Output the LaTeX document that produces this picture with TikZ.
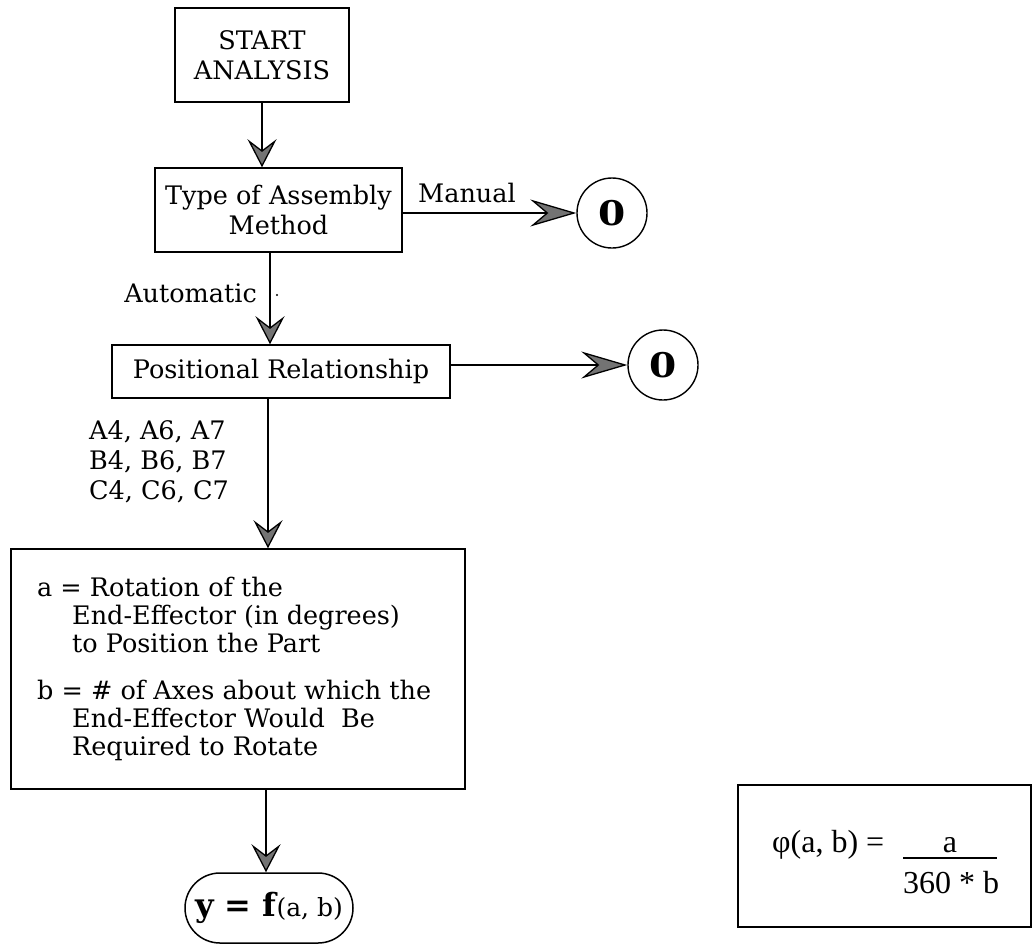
\documentclass[tikz,border=0pt]{standalone}
\usepackage{fontspec}
\setmainfont{DejaVu Serif}
\newfontfamily\tms{Liberation Serif}
\usetikzlibrary{arrows.meta}
\begin{document}
\begin{tikzpicture}[x=1pt,y=-1pt,
  box/.style={draw, line width=1.5pt, inner sep=0pt, align=center, font=\fontsize{25.5}{29.5}\selectfont},
  txt/.style={inner sep=0pt, font=\fontsize{25.5}{29.5}\selectfont},
  zero/.style={draw, circle, line width=1.4pt, minimum size=70pt, inner sep=0pt, font=\fontsize{34}{34}\selectfont\bfseries},
  vflow/.style={line width=1.3pt, -{Stealth[length=28pt,width=29pt,inset=11pt,fill=black!55]}},
  hflow/.style={line width=1.3pt, -{Stealth[length=46pt,width=27pt,inset=16pt,fill=black!55]}},
]
\useasboundingbox (0,0) rectangle (1033,945);
% nodes
\node[box, minimum width=174pt, minimum height=94pt] (start) at (262,55) {START\\ANALYSIS};
\node[box, minimum width=247pt, minimum height=84pt] (type) at (278.5,210) {Type of Assembly\\Method};
\node[zero] (c1) at (612,213) {\scalebox{1.15}[1]{0}};
\node[txt] (manual) at (467,193) {Manual};
\node[txt, anchor=east] (auto) at (257,293) {Automatic};
\node[box, minimum width=338pt, minimum height=53pt] (pos) at (281,371.5) {Positional Relationship};
\node[zero] (c2) at (663,365) {\scalebox{1.15}[1]{0}};
\node[txt, anchor=north west, align=left, font=\fontsize{25.5}{30}\selectfont] (codes) at (89,420) {A4, A6, A7\\B4, B6, B7\\C4, C6, C7};
\node[box, minimum width=454pt, minimum height=240pt] (big) at (238,669) {};
\node[txt, anchor=north west, align=left, font=\fontsize{25.5}{28}\selectfont] (bigtext) at (37,577)
  {a = Rotation of the\\\hspace*{35pt}End-Effector (in degrees)\\\hspace*{35pt}to Position the Part\\[19pt]
   b = \# of Axes about which the\\\hspace*{35pt}End-Effector Would\ \ Be\\\hspace*{35pt}Required to Rotate};
\node[draw, line width=1.5pt, rounded corners=35pt, minimum width=168pt, minimum height=70pt, inner sep=0pt] (yell) at (269,908)
  {{\fontsize{32}{32}\selectfont\bfseries y = f}{\fontsize{25}{25}\selectfont(a, b)}};
\node[draw, line width=1.5pt, minimum width=293pt, minimum height=142pt] (phibox) at (884.5,856) {};
\node[anchor=base west, inner sep=0pt, font=\tms\fontsize{32}{32}\selectfont] (phil) at (772,852) {φ(a, b) =};
\node[anchor=base, inner sep=0pt, font=\tms\fontsize{32}{32}\selectfont] (num) at (950,852) {a};
\node[anchor=base, inner sep=0pt, font=\tms\fontsize{32}{32}\selectfont] (den) at (951,893) {360 * b};
\draw[line width=1.3pt] (903,858) -- (997,858);
\fill (277,295) circle (1.1pt);
% connectors
\draw[vflow] (start.south) -- (start.south |- type.north);
\draw[vflow] ([xshift=-8.5pt]type.south) -- ([xshift=-8.5pt]type.south |- pos.north);
\draw[vflow] ([xshift=-13pt]pos.south) -- ([xshift=-13pt]pos.south |- big.north);
\draw[vflow] ([xshift=28pt]big.south) -- ([xshift=28pt]big.south |- yell.north);
\draw[hflow] (type.east |- c1.west) -- (c1.west);
\draw[hflow] (pos.east |- c2.west) -- (c2.west);
\end{tikzpicture}
\end{document}
